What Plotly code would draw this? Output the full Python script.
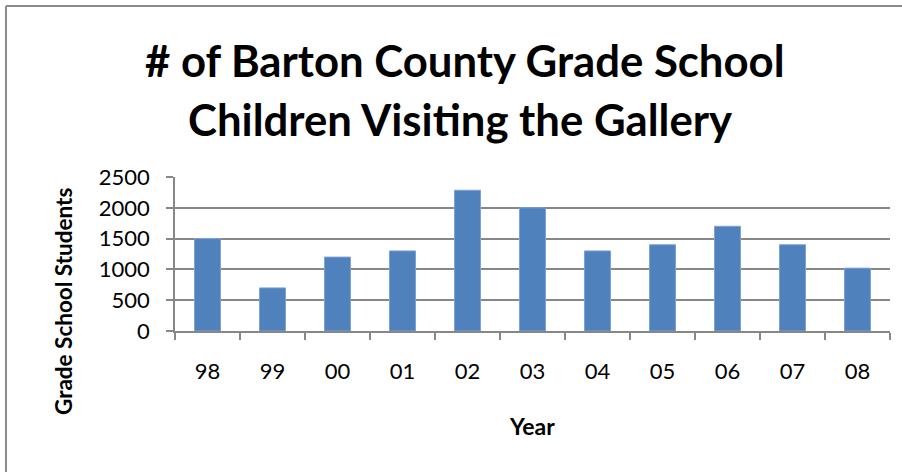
import plotly.graph_objects as go

years = ["98", "99", "00", "01", "02", "03", "04", "05", "06", "07", "08"]
students = [1500, 700, 1200, 1300, 2285, 2000, 1300, 1400, 1700, 1400, 1020]
y_ticks = [0, 500, 1000, 1500, 2000, 2500]

title_line1 = "# of Barton County Grade School"
title_line2 = "Children Visiting the Gallery"

W, H = 902, 472
L, R, T, B = 175, 12, 177, 141
pw = W - L - R
ph = H - T - B

def px_x(p):
    return (p - L) / pw

def px_y(p):
    return 1 - (p - T) / ph

fig = go.Figure()
fig.add_trace(go.Bar(
    x=years, y=students,
    marker=dict(color="#4F81BD", line=dict(color="#7EA3D3", width=1)),
    width=0.4,
))

font = "Lato, Calibri, Carlito, sans-serif"
grid = "#878787"

fig.update_layout(
    width=W, height=H,
    margin=dict(l=L, r=R, t=T, b=B, autoexpand=False),
    paper_bgcolor="white", plot_bgcolor="white",
    showlegend=False,
    font=dict(family=font, color="black"),
    xaxis=dict(
        type="category", tickson="boundaries", ticks="outside", ticklen=7,
        tickcolor=grid, tickwidth=1.5, showline=True, linecolor=grid, linewidth=1.5,
        showgrid=False, tickfont=dict(size=22, family=font), ticklabelstandoff=20,
    ),
    yaxis=dict(
        range=[0, 2500], tickvals=y_ticks, ticks="outside", ticklen=7,
        tickcolor=grid, tickwidth=1.5, showline=True, linecolor=grid, linewidth=1.5,
        showgrid=True, gridcolor=grid, gridwidth=1.5, zeroline=False,
        tickfont=dict(size=22, family=font), ticklabelstandoff=12,
    ),
    annotations=[
        dict(text=title_line1, xref="paper", yref="paper", x=px_x(465), y=px_y(60),
             xanchor="center", yanchor="middle", showarrow=False,
             font=dict(size=43.7, family=font, color="black", weight="bold")),
        dict(text=title_line2, xref="paper", yref="paper", x=px_x(460), y=px_y(119),
             xanchor="center", yanchor="middle", showarrow=False,
             font=dict(size=43.7, family=font, color="black", weight="bold")),
        dict(text="Year", xref="paper", yref="paper", x=px_x(532), y=px_y(426),
             xanchor="center", yanchor="middle", showarrow=False,
             font=dict(size=23, family=font, color="black", weight="bold")),
        dict(text="Grade School Students", xref="paper", yref="paper", x=px_x(63), y=px_y(301),
             xanchor="center", yanchor="middle", showarrow=False, textangle=-90,
             font=dict(size=22.5, family=font, color="black", weight="bold")),
    ],
    shapes=[
        dict(type="line", xref="paper", yref="paper", x0=px_x(6), x1=px_x(6),
             y0=px_y(6), y1=px_y(472), line=dict(color="#8C8C8C", width=2)),
        dict(type="line", xref="paper", yref="paper", x0=px_x(6), x1=px_x(902),
             y0=px_y(6), y1=px_y(6), line=dict(color="#8C8C8C", width=2)),
    ],
)

fig.write_html(
    "out.html", config={"displayModeBar": False},
    post_script=("document.documentElement.style.overflow='hidden';"
                 "document.body.style.margin='0';document.body.style.overflow='hidden';"),
)
